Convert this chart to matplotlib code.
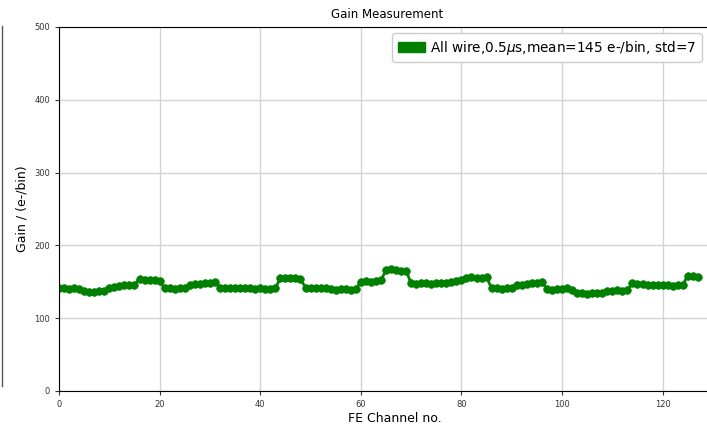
import matplotlib
matplotlib.use('Agg')
import matplotlib.pyplot as plt
from matplotlib.patches import Patch
from matplotlib.lines import Line2D
import numpy as np

# Gain per FE channel (e-/bin), channels 0..127
channels = np.arange(128)
gain = [
    141, 141, 140, 141, 140,
    137, 136, 136, 137, 137,
    142, 143, 144, 145, 145, 146,
    154, 152, 153, 152, 151,
    141, 141, 140, 141, 141,
    146, 147, 147, 148, 148, 150,
    142, 142, 142, 141, 142, 141, 141, 140, 141,
    140, 140, 141,
    155, 155, 155, 155, 154,
    142, 141, 142, 141, 142,
    140, 139, 140, 140, 139, 140,
    150, 151, 150, 151, 152,
    166, 167, 166, 165, 165,
    148, 147, 148, 148, 147, 148, 149, 149, 150, 151, 152,
    155, 156, 155, 155, 156,
    141, 141, 140, 141, 142,
    146, 146, 147, 148, 148, 150,
    140, 139, 140, 140, 141, 139,
    134, 134, 133, 134, 134, 135,
    138, 138, 139, 138, 139,
    148, 147, 147, 146, 146, 145, 145, 145, 144, 145, 146,
    158, 158, 157,
]
legend_label = r'All wire,0.5$\mu$s,mean=145 e-/bin, std=7'

fig = plt.figure(figsize=(7.07, 4.26), dpi=100)
# the axes runs past the right edge of the figure, so its right side is cut off
ax = fig.add_axes([0.0835, 0.0822, 0.95, 0.8545])
ax.spines['right'].set_visible(False)

ax.plot(channels, gain, 'o-', color='green', markersize=5.5, linewidth=2,
        markeredgewidth=0.5)
ax.set_xlim(0, 0.95 * 707 / 5.03)
ax.set_ylim(0, 500)
ax.set_xticks(range(0, 121, 20))
ax.set_yticks(range(0, 501, 100))
ax.grid(True, color='#d3d3d3', linewidth=1)
ax.set_axisbelow(True)
ax.tick_params(labelsize=6, colors='#333333', length=3)

fig.text(387 / 707, 1 - 15 / 426, 'Gain Measurement', fontsize=8.5,
         ha='center', va='center')
ax.set_xlabel('FE Channel no.', fontsize=9, labelpad=2)
ax.set_ylabel('Gain / (e-/bin)', fontsize=9, labelpad=4)

fig.legend(handles=[Patch(color='green', label=legend_label)],
           loc='upper left', bbox_to_anchor=(388 / 707, 1 - 29 / 426),
           fontsize=9.8, handlelength=2.0, handletextpad=0.4,
           borderaxespad=0.3, framealpha=1)

# edge of the neighbouring panel
fig.add_artist(Line2D([0.003, 0.003], [0.095, 0.94], color='#555555', linewidth=1))

fig.savefig('out.png', dpi=100)
